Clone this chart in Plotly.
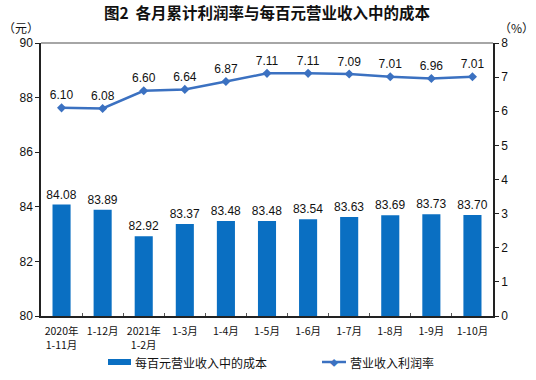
import plotly.graph_objects as go

categories = ["2020年<br>1-11月", "1-12月", "2021年<br>1-2月", "1-3月", "1-4月", "1-5月",
              "1-6月", "1-7月", "1-8月", "1-9月", "1-10月"]
cost_per_100 = [84.08, 83.89, 82.92, 83.37, 83.48, 83.48, 83.54, 83.63, 83.69, 83.73, 83.70]
profit_rate = [6.10, 6.08, 6.60, 6.64, 6.87, 7.11, 7.11, 7.09, 7.01, 6.96, 7.01]
left_ticks = [80, 82, 84, 86, 88, 90]
right_ticks = [0, 1, 2, 3, 4, 5, 6, 7, 8]

W, H = 536, 380
L, R, T, B = 41, 493, 43, 316
PW, PH = R - L, B - T

def px(x):
    return (x - L) / PW

def py(y):
    return (B - y) / PH

BAR_C = "#0A6FC2"
LINE_C = "#3B71C1"
FONT = "Noto Sans CJK SC"
NUMF = "Liberation Sans"

fig = go.Figure()
fig.add_trace(go.Bar(
    x=categories, y=cost_per_100, name="每百元营业收入中的成本",
    marker=dict(color=BAR_C, line=dict(width=0)), width=0.44,
    text=[f"{v:.2f}" for v in cost_per_100], textposition="outside",
    constraintext="none",
    textfont=dict(family=NUMF, size=12, color="#111"), cliponaxis=False,
    yaxis="y", showlegend=False,
))
fig.add_trace(go.Scatter(
    x=categories, y=profit_rate, name="营业收入利润率",
    mode="lines+markers+text", line=dict(color=LINE_C, width=2.5),
    marker=dict(symbol="diamond", size=7, color=LINE_C),
    text=[f"{v:.2f}" for v in profit_rate], textposition="top center",
    textfont=dict(family=NUMF, size=12, color="#111"), cliponaxis=False,
    yaxis="y2", showlegend=False,
))

def note(text, x, y, xanchor="center", size=12, color="#111", family=FONT):
    return dict(text=text, xref="paper", yref="paper", x=px(x), y=py(y),
                xanchor=xanchor, yanchor="middle", showarrow=False,
                font=dict(family=family, size=size, color=color))

fig.update_layout(
    width=W, height=H,
    margin=dict(l=L, r=W - R, t=T, b=H - B, autoexpand=False),
    plot_bgcolor="white", paper_bgcolor="white",
    bargap=0.56,
    font=dict(family=FONT, size=11, color="#111"),
    xaxis=dict(
        type="category", showline=True, linecolor="#222", linewidth=1.5,
        ticks="inside", ticklen=3, tickcolor="#555", tickson="boundaries",
        tickangle=0, automargin=False, ticklabelstandoff=5,
        tickfont=dict(family=FONT, size=10.5, color="#111"),
        range=[-0.5, 10.5], mirror=False, showgrid=False,
    ),
    yaxis=dict(
        range=[80, 90], tickvals=left_ticks, showgrid=False, zeroline=False,
        showline=True, linecolor="#222", linewidth=1.5, ticks="outside", ticklen=4,
        tickcolor="#222", tickfont=dict(family=NUMF, size=12, color="#111"),
        automargin=False,
    ),
    yaxis2=dict(
        range=[0, 8], tickvals=right_ticks, overlaying="y", side="right",
        showgrid=False, zeroline=False, showline=True, linecolor="#222", linewidth=1.5,
        ticks="outside", ticklen=4, tickcolor="#222", automargin=False,
        tickfont=dict(family=NUMF, size=12, color="#111"),
    ),
    title=dict(
        text="<b>图2  各月累计利润率与每百元营业收入中的成本</b>",
        x=0.5, xref="paper", y=1 - 14 / H, yanchor="middle",
        font=dict(family=FONT, size=15.5, color="#111"),
    ),
    shapes=[
        dict(type="line", xref="paper", yref="paper", x0=0, x1=1, y0=1, y1=1,
             line=dict(color="#888", width=1.5)),
        dict(type="rect", xref="paper", yref="paper", x0=px(108), x1=px(131),
             y0=py(365), y1=py(359), fillcolor=BAR_C, line=dict(width=0)),
        dict(type="line", xref="paper", yref="paper", x0=px(322), x1=px(346),
             y0=py(362), y1=py(362), line=dict(color=LINE_C, width=2.5)),
    ],
    annotations=[
        note("（元）", 21, 28),
        note("（%）", 516, 28),
        note("每百元营业收入中的成本", 133, 362, xanchor="left"),
        note("营业收入利润率", 348, 362, xanchor="left"),
        note("◆", 334, 362, size=8, color=LINE_C),
    ],
)

fig.write_html("out.html", post_script="document.body.style.margin='0';",
               config={"displayModeBar": False})
